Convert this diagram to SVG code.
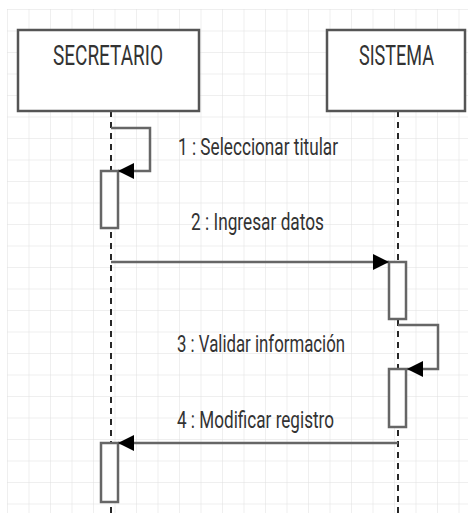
<svg xmlns="http://www.w3.org/2000/svg" width="468" height="513" viewBox="0 0 468 513">
<defs>
<pattern id="grid" x="7" y="9" width="21.5" height="21.5" patternUnits="userSpaceOnUse">
<path d="M0 0 H21.5 M0 0 V21.5" fill="none" stroke="#e0e0e0" stroke-width="1"/>
</pattern>
<marker id="ah" viewBox="0 0 16 16" refX="16" refY="8" markerWidth="16" markerHeight="16" markerUnits="userSpaceOnUse" orient="auto">
<path d="M0 0 L16 8 L0 16 Z" fill="#000"/>
</marker>
<style>
.box{fill:#fff;stroke:#555;stroke-width:2.5}
.act{fill:#fff;stroke:#666;stroke-width:2.5}
.life{stroke:#111;stroke-width:1.8;stroke-dasharray:6 5;fill:none}
.msg{stroke:#666;stroke-width:2.5;fill:none}
.t{font-family:"Liberation Sans Narrow","Roboto","Liberation Sans",sans-serif;fill:#333}
.h{font-size:27px;text-anchor:middle}
.l{font-size:23px}
</style>
</defs>
<rect x="0" y="0" width="468" height="513" fill="#fff"/>
<rect x="7" y="9" width="461" height="504" fill="url(#grid)"/>

<g id="lifelines">
<line class="life" x1="111" y1="111" x2="111" y2="513"/>
<line class="life" x1="398" y1="111" x2="398" y2="513"/>
</g>

<g id="secretario">
<rect class="box" x="18" y="30" width="181" height="81"/>
<text class="t h" x="108" y="65" textLength="110" lengthAdjust="spacingAndGlyphs">SECRETARIO</text>
</g>
<g id="sistema">
<rect class="box" x="327" y="30" width="138" height="81"/>
<text class="t h" x="396.5" y="65" textLength="75" lengthAdjust="spacingAndGlyphs">SISTEMA</text>
</g>

<g id="activations">
<rect id="act1" class="act" x="101" y="171" width="17" height="57"/>
<rect id="act2" class="act" x="389" y="262" width="17" height="57"/>
<rect id="act3" class="act" x="389" y="369" width="17" height="58"/>
<rect id="act4" class="act" x="101" y="443" width="17" height="59"/>
</g>

<g id="connectors">
<path class="msg" d="M111 128 H150 V171 H118" marker-end="url(#ah)"/>
<path class="msg" d="M111 262 H389" marker-end="url(#ah)"/>
<path class="msg" d="M398 325 H438 V369 H407" marker-end="url(#ah)"/>
<path class="msg" d="M398 443 H118" marker-end="url(#ah)"/>
</g>

<g id="labels">
<text class="t l" x="178" y="155" textLength="160" lengthAdjust="spacingAndGlyphs">1 : Seleccionar titular</text>
<text class="t l" x="191" y="230" textLength="133" lengthAdjust="spacingAndGlyphs">2 : Ingresar datos</text>
<text class="t l" x="177" y="352" textLength="168" lengthAdjust="spacingAndGlyphs">3 : Validar información</text>
<text class="t l" x="177" y="428" textLength="157" lengthAdjust="spacingAndGlyphs">4 : Modificar registro</text>
</g>
</svg>
